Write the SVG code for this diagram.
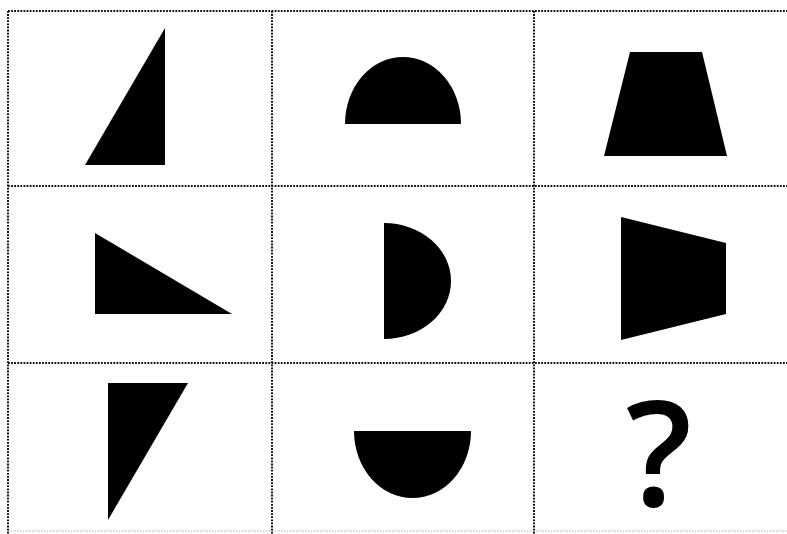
<svg xmlns="http://www.w3.org/2000/svg" width="787" height="534" viewBox="0 0 787 534">
<style>
.grid{stroke:#111;stroke-width:2;stroke-dasharray:1.8 1.3;fill:none}
.faint{stroke:#ccc;stroke-width:1.4;stroke-dasharray:1.6 1.4;fill:none}
.shape{fill:#000}
</style>
<rect width="787" height="534" fill="#fff"/>
<g id="grid">
<line class="grid" x1="8" y1="11" x2="787" y2="11"/>
<line class="grid" x1="8" y1="186" x2="787" y2="186"/>
<line class="grid" x1="8" y1="363" x2="787" y2="363"/>
<line class="faint" x1="8" y1="531" x2="787" y2="531"/>
<line class="grid" x1="8" y1="11" x2="8" y2="534"/>
<line class="grid" x1="272" y1="11" x2="272" y2="534"/>
<line class="grid" x1="534" y1="11" x2="534" y2="534"/>
</g>
<g id="r1c1"><polygon class="shape" points="165,28 85,165 165,165"/></g>
<g id="r1c2"><path class="shape" d="M345,124 A58,67 0 0 1 461,124 Z"/></g>
<g id="r1c3"><polygon class="shape" points="630,52 702,52 727,156 604,156"/></g>
<g id="r2c1"><polygon class="shape" points="95,233 95,314 232,314"/></g>
<g id="r2c2"><path class="shape" d="M384,223 A67,58 0 0 1 384,339 Z"/></g>
<g id="r2c3"><polygon class="shape" points="621,217 726,243 726,314 621,340"/></g>
<g id="r3c1"><polygon class="shape" points="108,383 188,383 108,520"/></g>
<g id="r3c2"><path class="shape" d="M354,431 L471,431 A58.5,67 0 0 1 354,431 Z"/></g>
<g id="r3c3"><text x="659" y="506" font-family="Open Sans, Noto Sans, sans-serif" font-weight="600" font-size="146" text-anchor="middle" fill="#000">?</text></g>
</svg>
